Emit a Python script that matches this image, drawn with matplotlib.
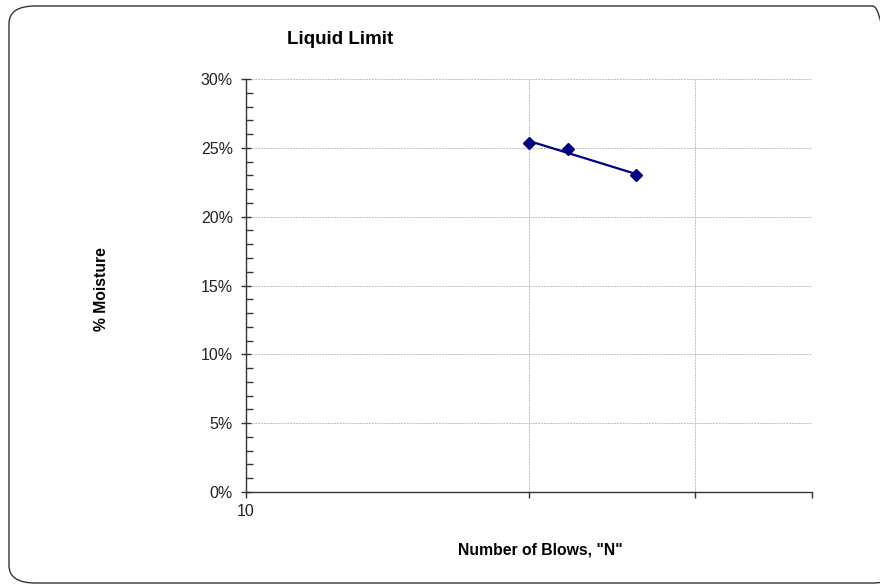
import numpy as np
import matplotlib.pyplot as plt
from matplotlib.patches import FancyBboxPatch
from matplotlib.ticker import FixedLocator, MultipleLocator, PercentFormatter, NullFormatter

plt.rcParams['font.family'] = ['Liberation Sans', 'DejaVu Sans']

# liquid limit test results
blows = [20, 22, 26]
moisture = [25.33, 24.89, 23.0]  # %

x_ticks = [10, 20, 30, 40]
x_tick_labels = ['10', '', '', '']

fig = plt.figure(figsize=(8.8, 5.85), dpi=100)
W, H = 880, 585

# rounded outer frame
frame = FancyBboxPatch((9 / W, 2 / H), 890 / W, 577 / H,
                       boxstyle="round,pad=0,rounding_size=0.03",
                       transform=fig.transFigure, fill=False,
                       edgecolor='#333333', linewidth=1.0, clip_on=False)
fig.patches.append(frame)

ax = fig.add_axes([246 / W, (H - 492) / H, (812 - 246) / W, (492 - 79) / H])
ax.set_xscale('log')
ax.set_xlim(10, 40)
ax.set_ylim(0, 30)

# log trendline through the points
coef = np.polyfit(np.log10(blows), moisture, 1)
xs = np.array([min(blows), max(blows)])
ax.plot(xs, np.polyval(coef, np.log10(xs)), color='#000080', linewidth=1.6, zorder=3)
ax.plot(blows, moisture, linestyle='none', marker='D', markersize=6.5,
        color='#000080', zorder=4)

ax.xaxis.set_major_locator(FixedLocator(x_ticks))
ax.xaxis.set_minor_locator(FixedLocator([]))
ax.xaxis.set_minor_formatter(NullFormatter())
ax.set_xticklabels(x_tick_labels)
ax.yaxis.set_major_locator(MultipleLocator(5))
ax.yaxis.set_minor_locator(MultipleLocator(1))
ax.yaxis.set_major_formatter(PercentFormatter(decimals=0))

ax.grid(True, which='major', color='#bdbdbd', linestyle=(0, (2, 1)), linewidth=0.7)
for s in ['top', 'right']:
    ax.spines[s].set_visible(False)
for s in ['left', 'bottom']:
    ax.spines[s].set_color('#333333')
    ax.spines[s].set_linewidth(1.0)

ax.tick_params(axis='y', which='major', direction='inout', length=7, width=1,
               colors='#333333', labelsize=11.5, labelcolor='#222222', pad=6)
ax.tick_params(axis='y', which='minor', direction='in', length=5, width=1, colors='#333333')
ax.tick_params(axis='x', which='major', direction='out', length=4, width=1,
               colors='#333333', labelsize=11.5, labelcolor='#222222', pad=5)

fig.text(340 / W, 1 - 40 / H, 'Liquid Limit', ha='center', va='center',
         fontsize=13.5, fontweight='bold')
fig.text(540 / W, 1 - 550 / H, 'Number of Blows, "N"', ha='center', va='center',
         fontsize=11.3, fontweight='bold')
fig.text(101 / W, 1 - 289 / H, '% Moisture', ha='center', va='center',
         fontsize=11.3, fontweight='bold', rotation=90)

fig.savefig('out.png', dpi=100)
